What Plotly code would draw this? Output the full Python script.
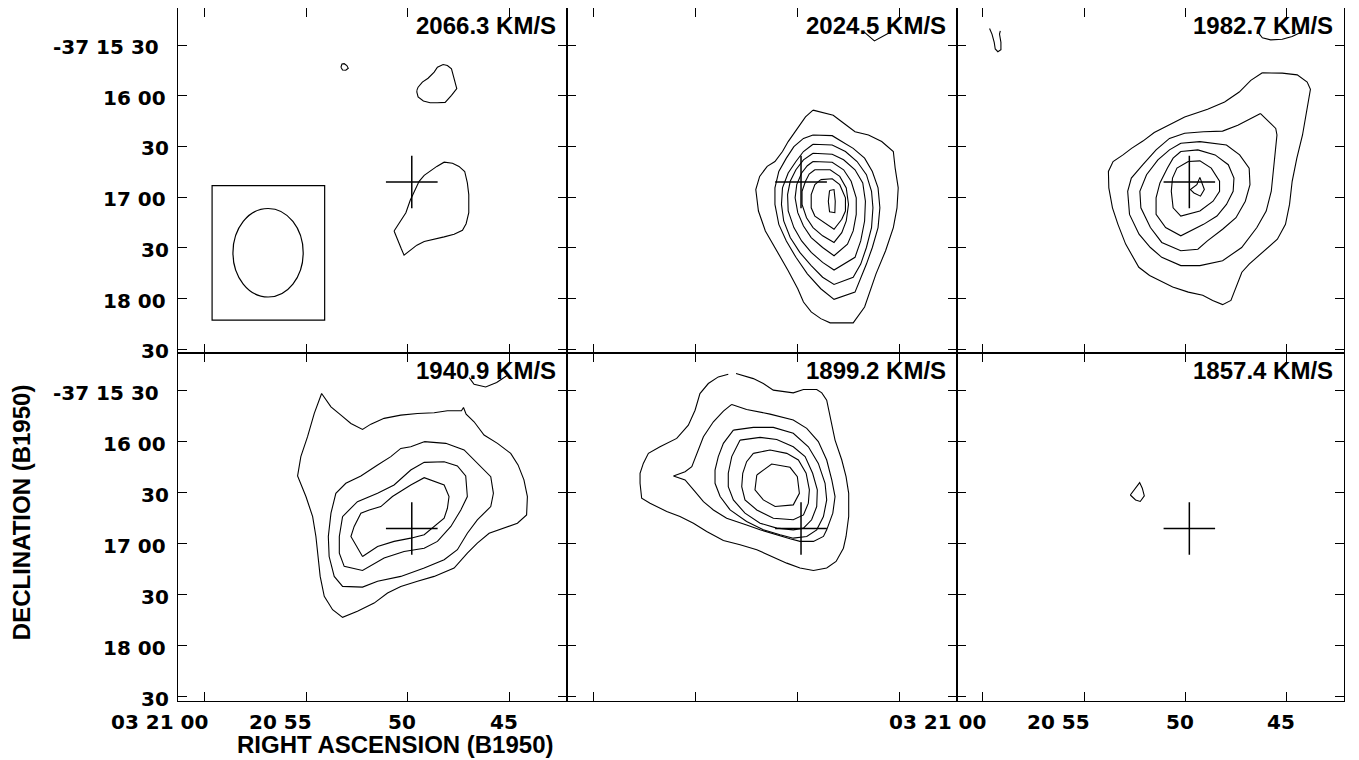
import plotly.graph_objects as go

# ---------------- data ----------------
# RA in seconds of time after 03h20m (B1950); Dec in arcsec south of -37d15m00s
RA_TICKS = [60, 55, 50, 45]
RA_TICK_TEXT = ["03 21 00", "20 55", "50", "45"]
DEC_TICKS = [30, 60, 90, 120, 150, 180, 210]
DEC_TICK_TEXT = ["-37 15 30", "16 00", "30", "17 00", "30", "18 00", "30"]

VELOCITIES = ["2066.3 KM/S", "2024.5 KM/S", "1982.7 KM/S",
              "1940.9 KM/S", "1899.2 KM/S", "1857.4 KM/S"]

CROSS_RA, CROSS_DEC = 49.81, 111.0
CROSS_HALF_RA, CROSS_HALF_DEC = 1.27, 15.5

BEAM_BOX_RA = [59.62, 54.09]
BEAM_BOX_DEC = [113.2, 192.8]
BEAM_RA, BEAM_DEC = 56.87, 152.9
BEAM_SEMI_RA, BEAM_SEMI_DEC = 1.726, 26.2

# ---- 2066.3 km/s ----
P1_RA = [
    [53.29, 53.24, 53.13, 53.00, 52.93, 53.05, 53.21, 53.29],
    [49.56, 49.50, 49.29, 49.01, 48.71, 48.55, 48.27, 48.06, 47.86, 47.76, 47.60, 47.86, 48.17,
     48.55, 48.91, 49.24, 49.50, 49.56, 49.56],
    [50.68, 50.43, 50.10, 49.89, 49.66, 49.45, 49.20, 48.88, 48.58, 48.22, 47.81, 47.49, 47.21,
     47.08, 47.01, 47.01, 47.14, 47.32, 47.73, 48.22, 48.71, 49.20, 49.56, 49.86, 50.19, 50.32,
     50.51, 50.68],
]
P1_DEC = [
    [43.1, 41.2, 41.0, 42.1, 43.7, 44.9, 44.7, 43.1],
    [56.8, 54.9, 51.9, 49.6, 46.0, 43.1, 41.5, 42.1, 44.1, 49.0, 55.8, 59.7, 63.9, 64.1, 64.1,
     63.1, 60.7, 57.8, 56.8],
    [140.0, 135.1, 129.2, 122.0, 116.5, 110.6, 107.1, 104.4, 101.8, 99.3, 99.9, 101.8, 104.8,
     111.6, 118.5, 129.2, 135.7, 139.6, 141.9, 143.5, 144.9, 146.2, 148.4, 151.3, 154.3, 150.7,
     144.9, 140.0],
]

# ---- 2024.5 km/s ----
P2_RA = [
    [46.72, 46.21, 45.52],
    [49.22, 48.23, 47.81, 47.16, 46.50, 45.85, 45.28, 45.19, 45.04, 45.10, 45.28, 45.66, 46.13,
     46.69, 47.25, 48.38, 48.84, 49.31, 49.69, 49.97, 50.44, 51.00, 51.56, 51.90, 52.03, 51.84,
     51.47, 51.09, 50.72, 50.44, 49.97, 49.59, 49.22],
    [49.22, 48.28, 47.81, 47.25, 46.69, 46.31, 46.03, 45.94, 46.03, 46.31, 46.60, 47.16, 48.19,
     48.84, 49.50, 50.06, 50.53, 50.90, 51.09, 51.09, 50.90, 50.53, 50.16, 49.69, 49.22],
    [49.22, 48.28, 47.63, 47.06, 46.60, 46.35, 46.28, 46.35, 46.60, 46.88, 47.25, 48.19, 48.75,
     49.31, 49.87, 50.34, 50.66, 50.77, 50.72, 50.44, 50.06, 49.69, 49.22],
    [49.22, 48.28, 47.72, 47.16, 46.78, 46.65, 46.69, 46.88, 47.16, 48.19, 48.75, 49.31, 49.78,
     50.16, 50.44, 50.47, 50.34, 50.06, 49.69, 49.22],
    [49.22, 48.28, 47.72, 47.35, 47.10, 47.10, 47.25, 47.53, 48.19, 48.75, 49.31, 49.69, 49.97,
     50.10, 50.02, 49.78, 49.50, 49.22],
    [49.13, 48.38, 47.91, 47.59, 47.48, 47.59, 47.81, 48.19, 48.75, 49.22, 49.54, 49.76, 49.76,
     49.59, 49.41, 49.13],
    [48.84, 48.28, 47.91, 47.63, 47.63, 47.81, 48.19, 48.66, 49.13, 49.31, 49.31, 49.13, 48.84],
    [48.41, 48.19, 48.13, 48.15, 48.41, 48.47, 48.41],
]
P2_DEC = [
    [22.2, 27.5, 23.0],
    [68.5, 71.5, 75.4, 81.3, 83.2, 87.1, 93.0, 102.8, 114.5, 126.3, 138.0, 151.7, 165.4, 185.0,
     194.4, 194.4, 191.9, 187.9, 182.1, 174.2, 163.5, 151.7, 140.0, 128.2, 115.5, 107.7, 101.8,
     98.9, 93.0, 87.1, 79.3, 72.5, 68.5],
    [83.2, 83.6, 87.1, 91.1, 96.9, 104.8, 114.5, 126.3, 138.0, 149.8, 159.6, 176.2, 180.5, 174.2,
     165.4, 155.6, 145.9, 136.1, 124.3, 114.5, 104.8, 96.9, 90.1, 85.2, 83.2],
    [88.7, 89.1, 93.0, 98.9, 106.7, 116.5, 126.3, 138.0, 149.8, 159.6, 167.4, 171.7, 167.4,
     160.5, 152.7, 143.9, 134.1, 124.3, 114.5, 105.7, 98.9, 93.0, 88.7],
    [94.0, 94.6, 97.9, 103.8, 111.6, 122.4, 134.1, 145.9, 155.6, 163.1, 158.6, 152.7, 145.9,
     138.0, 128.2, 118.5, 110.6, 103.8, 97.9, 94.0],
    [98.9, 99.3, 103.8, 110.6, 120.4, 130.2, 140.0, 147.8, 154.7, 149.8, 143.9, 137.1, 129.2,
     120.4, 112.6, 105.7, 101.4, 98.9],
    [103.8, 103.8, 107.7, 114.5, 124.3, 134.1, 141.0, 146.8, 142.9, 138.0, 132.2, 124.3, 116.5,
     110.6, 106.3, 103.8],
    [109.6, 109.1, 112.6, 120.4, 128.2, 133.1, 139.0, 135.1, 131.2, 126.3, 118.5, 112.6, 109.6],
    [116.1, 115.5, 122.4, 129.2, 128.6, 122.4, 116.1],
]

# ---- 1982.7 km/s ----
P3_RA = [
    [59.66, 59.54, 59.43, 59.38, 59.25, 59.10, 59.10, 59.17, 59.13],
    [46.34, 46.41, 46.21, 45.80, 45.23, 44.74, 44.28],
    [46.21, 45.23, 44.49, 44.00, 43.84, 43.95, 44.12, 44.23, 44.51, 44.74, 44.87, 45.07, 45.47,
     46.21, 46.86, 47.22, 47.49, 47.76, 48.17, 48.66, 49.15, 49.86, 50.63, 51.28, 51.77, 52.30,
     52.67, 52.95, 53.33, 53.60, 53.78, 53.80, 53.57, 53.08, 52.66, 52.10, 51.54, 50.79, 50.04,
     48.91, 48.07, 47.35, 46.78, 46.21],
    [46.30, 45.55, 45.49, 45.64, 45.77, 46.02, 46.48, 47.23, 48.17, 49.29, 50.23, 51.17, 51.73,
     52.29, 52.76, 52.85, 52.67, 52.10, 51.45, 50.79, 50.04, 49.11, 48.17, 47.42, 46.30],
    [50.23, 49.29, 47.98, 47.33, 46.86, 46.82, 47.05, 47.51, 48.17, 48.92, 49.39, 50.23, 51.17,
     51.73, 52.20, 52.25, 51.92, 51.36, 50.79, 50.23],
    [50.23, 49.39, 48.54, 47.89, 47.61, 47.65, 47.98, 48.45, 49.11, 50.23, 50.98, 51.45, 51.45,
     51.26, 50.89, 50.61, 50.23],
    [49.86, 49.29, 48.73, 48.32, 48.32, 48.64, 49.29, 50.23, 50.61, 50.70, 50.64, 50.42, 49.86],
    [49.29, 49.07, 49.26, 49.58, 49.76, 49.44, 49.29],
]
P3_DEC = [
    [20.2, 23.5, 28.4, 32.3, 33.9, 32.7, 28.4, 23.5, 21.6],
    [20.2, 22.6, 25.7, 26.9, 26.5, 24.9, 22.2],
    [46.4, 46.6, 47.6, 51.9, 56.2, 63.7, 73.4, 83.2, 96.9, 110.6, 124.3, 136.1, 144.9, 152.9,
     159.6, 164.4, 173.2, 181.1, 183.6, 181.1, 178.1, 176.2, 173.2, 169.3, 166.4, 161.5, 153.7,
     147.8, 136.1, 126.3, 114.5, 104.8, 98.9, 95.0, 91.1, 86.8, 81.7, 77.0, 72.5, 68.0, 63.7,
     57.8, 50.9, 46.4],
    [70.5, 79.3, 83.2, 102.8, 116.5, 128.2, 138.0, 149.8, 157.6, 160.5, 160.5, 155.6, 149.8,
     141.9, 130.2, 116.5, 108.7, 100.8, 92.0, 85.2, 82.2, 81.3, 80.9, 77.4, 70.5],
    [88.1, 87.1, 89.1, 95.0, 102.8, 112.6, 122.4, 132.2, 139.0, 145.9, 150.8, 151.7, 146.8,
     138.0, 126.3, 116.5, 106.7, 97.9, 92.0, 88.1],
    [93.0, 92.0, 95.0, 100.8, 108.7, 116.5, 124.3, 131.2, 136.1, 142.9, 138.0, 130.2, 120.4,
     111.6, 102.8, 96.9, 93.0],
    [98.9, 98.5, 102.8, 110.6, 116.5, 122.4, 128.2, 131.2, 126.3, 116.5, 108.7, 102.8, 98.9],
    [108.3, 115.5, 119.4, 117.5, 115.5, 112.6, 108.3],
]

# ---- 1940.9 km/s ----
P4_RA = [
    [46.99, 46.75, 46.18, 45.64, 45.11],
    [54.24, 53.78, 53.29, 52.80, 52.23, 51.82, 51.17, 50.35, 49.53, 48.71, 48.06, 47.37, 47.27,
     47.14, 46.75, 46.26, 45.60, 44.95, 44.59, 44.30, 44.13, 44.17, 44.62, 45.28, 46.01, 46.59,
     47.08, 47.73, 48.71, 49.53, 50.35, 51.00, 51.66, 52.48, 53.21, 53.70, 54.11, 54.31, 54.41,
     54.52, 54.68, 55.01, 55.42, 55.26, 54.93, 54.60, 54.24],
    [49.20, 48.14, 47.24, 46.59, 45.93, 45.80, 45.93, 46.59, 47.08, 47.57, 48.22, 49.20, 50.35,
     51.49, 52.23, 53.21, 53.62, 53.87, 53.91, 53.78, 53.54, 53.05, 52.31, 51.49, 50.84, 50.35,
     49.86, 49.20],
    [53.21, 52.48, 51.49, 50.68, 49.86, 49.20, 48.22, 47.57, 47.16, 47.08, 47.40, 47.89, 48.55,
     49.20, 50.19, 51.17, 52.23, 53.13, 53.37, 53.37, 53.21],
    [52.23, 52.80, 52.64, 52.31, 51.90, 51.33, 50.76, 49.86, 49.20, 48.22, 47.98, 48.06, 48.22,
     48.63, 49.20, 49.86, 50.68, 51.49, 52.23],
]
P4_DEC = [
    [22.2, 26.1, 27.7, 25.1, 20.8],
    [31.6, 39.4, 44.3, 49.2, 52.7, 49.6, 46.2, 44.3, 43.3, 42.9, 41.7, 41.7, 39.8, 43.7, 48.2,
     56.0, 60.9, 66.8, 73.6, 82.4, 92.2, 103.0, 107.9, 110.8, 113.8, 119.6, 125.5, 134.3, 139.2,
     142.1, 145.1, 149.0, 154.9, 159.7, 163.3, 158.8, 150.9, 139.2, 129.4, 115.7, 104.0, 92.2,
     80.1, 68.7, 57.0, 43.3, 31.6],
    [59.9, 60.9, 64.8, 72.7, 80.5, 90.3, 98.1, 105.9, 113.8, 123.5, 129.4, 134.3, 139.2, 142.1,
     145.5, 145.1, 139.2, 127.5, 115.7, 102.0, 90.3, 84.4, 80.1, 73.6, 68.7, 63.9, 62.9, 59.9],
    [104.0, 95.2, 90.3, 85.4, 76.6, 72.1, 71.7, 74.2, 80.1, 92.2, 100.1, 109.8, 118.6, 122.6,
     124.5, 128.4, 135.7, 133.3, 125.5, 115.7, 104.0],
    [127.5, 115.7, 109.8, 102.0, 100.1, 98.1, 92.2, 85.4, 81.1, 85.4, 92.2, 99.1, 105.0, 108.9,
     114.7, 116.7, 118.6, 121.6, 127.5],
]

# ---- 1899.2 km/s ----
P5_RA = [
    [53.00, 52.15, 51.66, 51.17, 50.19, 49.69, 49.04, 48.79, 48.55, 48.39, 48.14, 47.81, 47.60,
     47.47, 47.47, 47.60, 47.73, 48.09, 48.55, 49.20, 49.86, 50.51, 51.17, 51.98, 52.80, 53.62,
     54.44, 55.09, 55.75, 56.40, 57.22, 57.63, 57.71, 57.71, 57.55, 57.30, 56.73, 55.91, 55.34,
     55.01, 54.77, 54.36, 53.87, 53.38],
    [53.21, 52.48, 51.33, 50.19, 49.53, 48.96, 48.55, 48.30, 48.14, 48.25, 48.55, 48.71, 49.20,
     49.86, 50.35, 51.00, 51.82, 52.48, 53.46, 54.11, 54.60, 55.01, 55.50, 56.07, 55.50, 55.17,
     54.93, 54.60, 54.11, 53.62, 53.21],
    [53.13, 52.15, 51.17, 50.19, 49.45, 48.96, 48.63, 48.55, 48.71, 49.04, 49.53, 50.19, 50.84,
     51.66, 52.48, 53.29, 53.78, 54.03, 54.03, 53.87, 53.62, 53.13],
    [52.80, 51.82, 51.00, 50.19, 49.61, 49.24, 49.01, 49.04, 49.29, 49.69, 50.19, 51.00, 51.82,
     52.56, 53.13, 53.38, 53.38, 53.21, 52.80],
    [52.15, 51.33, 50.51, 49.94, 49.56, 49.40, 49.45, 49.69, 50.19, 51.17, 51.98, 52.56, 52.72,
     52.67, 52.48, 52.15],
    [51.98, 51.25, 50.35, 49.99, 49.89, 50.19, 51.08, 51.66, 52.07, 51.98],
]
P5_DEC = [
    [19.8, 22.8, 25.7, 29.6, 31.2, 29.2, 29.2, 31.2, 35.5, 45.3, 59.0, 70.7, 80.5, 90.3, 104.0,
     115.7, 122.6, 130.4, 134.3, 135.7, 134.3, 131.4, 127.8, 123.5, 120.6, 118.1, 112.8, 107.9,
     104.0, 101.0, 96.1, 93.2, 84.4, 78.5, 72.7, 66.8, 62.9, 58.0, 50.2, 41.4, 31.6, 25.7, 21.8,
     20.2],
    [38.0, 41.0, 43.7, 47.2, 52.1, 59.9, 70.7, 82.4, 92.2, 102.0, 111.8, 115.7, 118.6, 118.6,
     117.1, 114.7, 111.8, 108.9, 105.0, 100.1, 95.2, 89.3, 82.4, 80.1, 77.6, 74.6, 66.8, 57.0,
     48.2, 41.9, 38.0],
    [53.1, 51.5, 51.5, 55.0, 62.9, 72.7, 84.4, 94.2, 104.0, 111.8, 115.7, 116.7, 114.7, 111.8,
     106.9, 100.1, 92.2, 84.4, 76.6, 68.7, 60.9, 53.1],
    [59.0, 57.4, 58.6, 62.9, 68.7, 78.5, 88.3, 98.1, 105.9, 110.8, 111.8, 110.8, 107.9, 102.0,
     94.2, 86.4, 78.5, 68.7, 59.0],
    [66.8, 64.8, 66.8, 70.7, 78.5, 88.3, 96.1, 103.0, 105.9, 105.0, 100.1, 94.2, 86.4, 78.5,
     71.7, 66.8],
    [79.5, 73.1, 75.0, 80.5, 90.3, 97.1, 98.1, 94.2, 88.3, 79.5],
]

# ---- 1857.4 km/s ----
P6_RA = [[52.72, 52.46, 52.26, 52.13, 52.03, 52.23, 52.46, 52.72]]
P6_DEC = [[91.3, 87.3, 84.0, 87.3, 91.8, 95.1, 94.2, 91.3]]

PANELS_RA = [P1_RA, P2_RA, P3_RA, P4_RA, P5_RA, P6_RA]
PANELS_DEC = [P1_DEC, P2_DEC, P3_DEC, P4_DEC, P5_DEC, P6_DEC]

# ---------------- layout geometry ----------------
# the page places the figure 8 px from the window's top-left corner
OFF = 8
W, H = 1359 - OFF, 760 - OFF


def px_x(p):
    return (p - OFF) / W


def px_y(p):
    return 1 - (p - OFF) / H


X_RANGE = [61.28, 42.17]
Y_RANGES = [[212.0, 8.04], [212.35, 7.5]]
COL_PX = [(178.3, 567.3), (567.3, 956.7), (956.7, 1344.3)]
ROW_PX = [(5.3, 352.6), (352.6, 700.7)]

TITLE_FONT = dict(family="Liberation Sans, Arial, sans-serif", size=24, color="black", weight="bold")
TICK_FONT = dict(family="DejaVu Sans, sans-serif", size=20, color="black", weight="bold")

fig = go.Figure()
layout_axes = {}
for i in range(6):
    r, c = divmod(i, 3)
    s = "" if i == 0 else str(i + 1)
    x0, x1 = COL_PX[c]
    y0, y1 = ROW_PX[r]
    common = dict(ticks="inside", ticklen=9, tickwidth=1, tickcolor="black",
                  showticklabels=False, showline=True, linecolor="black", linewidth=1.2,
                  mirror="ticks", showgrid=False, zeroline=False, fixedrange=True)
    layout_axes["xaxis" + s] = dict(domain=[max(px_x(x0), 0), min(px_x(x1), 1)], range=X_RANGE,
                                    anchor="y" + s, tickvals=RA_TICKS, **common)
    layout_axes["yaxis" + s] = dict(domain=[max(px_y(y1), 0), min(px_y(y0), 1)], range=Y_RANGES[r],
                                    anchor="x" + s, tickvals=DEC_TICKS, **common)

    for ra, dec in zip(PANELS_RA[i], PANELS_DEC[i]):
        fig.add_trace(go.Scatter(x=ra, y=dec, mode="lines",
                                 line=dict(color="black", width=1.1),
                                 xaxis="x" + s, yaxis="y" + s,
                                 hoverinfo="skip", showlegend=False))
    # position cross
    fig.add_trace(go.Scatter(
        x=[CROSS_RA + CROSS_HALF_RA, CROSS_RA - CROSS_HALF_RA, None, CROSS_RA, CROSS_RA],
        y=[CROSS_DEC, CROSS_DEC, None, CROSS_DEC - CROSS_HALF_DEC, CROSS_DEC + CROSS_HALF_DEC],
        mode="lines", line=dict(color="black", width=1.5),
        xaxis="x" + s, yaxis="y" + s, hoverinfo="skip", showlegend=False))

fig.update_layout(**layout_axes)

annotations = []
for i in range(6):
    s = "" if i == 0 else str(i + 1)
    annotations.append(dict(text=VELOCITIES[i], xref="x" + s + " domain", yref="y" + s + " domain",
                            x=1, y=1, xanchor="right", yanchor="top", xshift=-9, yshift=-2,
                            showarrow=False, font=TITLE_FONT))

# declination tick labels (left column)
label_right_px = {"-37 15 30": 161.3, "16 00": 167.7, "17 00": 167.7, "18 00": 167.7, "30": 171.0}
for s in ["", "4"]:
    for v, t in zip(DEC_TICKS, DEC_TICK_TEXT):
        annotations.append(dict(text=t, xref="paper", yref="y" + s, x=px_x(label_right_px[t]), y=v,
                                xanchor="right", yanchor="middle", yshift=-2,
                                showarrow=False, font=TICK_FONT))

# right ascension tick labels (bottom-left and bottom-right panels)
ra_shift = [4.5, 6.5, 9.5, 9.5]
for s in ["4", "6"]:
    for v, t, dx in zip(RA_TICKS, RA_TICK_TEXT, ra_shift):
        annotations.append(dict(text=t, xref="x" + s, yref="paper", x=v, y=px_y(721.5),
                                xanchor="right", yanchor="middle", xshift=dx, borderpad=0,
                                showarrow=False, font=TICK_FONT))

annotations.append(dict(text="RIGHT ASCENSION (B1950)", xref="paper", yref="paper",
                        x=px_x(395), y=px_y(744.5), xanchor="center", yanchor="middle",
                        borderpad=0, showarrow=False, font=TITLE_FONT))
annotations.append(dict(text="DECLINATION (B1950)", xref="paper", yref="paper",
                        x=px_x(21.7), y=px_y(512.5), xanchor="center", yanchor="middle",
                        textangle=-90, showarrow=False, font=TITLE_FONT))

shapes = [
    dict(type="rect", xref="x", yref="y", x0=BEAM_BOX_RA[0], x1=BEAM_BOX_RA[1],
         y0=BEAM_BOX_DEC[0], y1=BEAM_BOX_DEC[1], line=dict(color="black", width=1.2)),
    dict(type="circle", xref="x", yref="y",
         x0=BEAM_RA - BEAM_SEMI_RA, x1=BEAM_RA + BEAM_SEMI_RA,
         y0=BEAM_DEC - BEAM_SEMI_DEC, y1=BEAM_DEC + BEAM_SEMI_DEC,
         line=dict(color="black", width=1.2)),
]

fig.update_layout(width=W, height=H, margin=dict(l=0, r=0, t=0, b=0, pad=0, autoexpand=False),
                  paper_bgcolor="white", plot_bgcolor="white",
                  annotations=annotations, shapes=shapes, hovermode=False, showlegend=False)

fig.write_html("out.html")
